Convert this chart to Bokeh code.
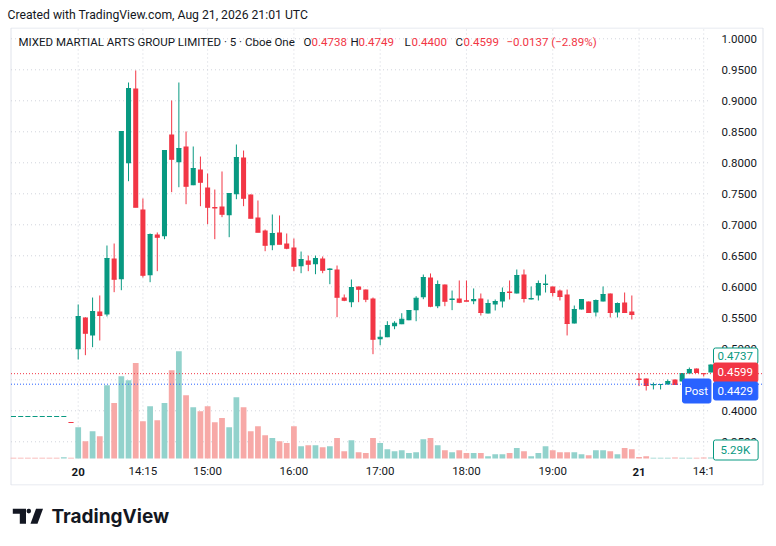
from bokeh.plotting import figure
from bokeh.models import (Range1d, FixedTicker, NumeralTickFormatter, Label,
                          ColumnDataSource)
from bokeh.layouts import column
from bokeh.core.properties import value
from bokeh.embed import file_html
from bokeh.resources import INLINE

# ---------------- data ----------------
bar_index = list(range(-9, 89))   # 5-minute bars; 0 = Aug 20 13:30 UTC

opens = [0.3908]*8 + [0.3815] + [
    0.4994, 0.5505, 0.5215, 0.5602, 0.5553, 0.6456, 0.6123, 0.7994, 0.9198, 0.7247,
    0.6187, 0.6844, 0.6816, 0.8456, 0.8010, 0.8263, 0.7639, 0.7892, 0.7602, 0.7287,
    0.7295, 0.7155, 0.7494, 0.8086, 0.7489, 0.7118, 0.6908, 0.6671, 0.6876, 0.6698,
    0.6634, 0.6332, 0.6424, 0.6365, 0.6456, 0.6271, 0.6279, 0.5827, 0.5752, 0.6005,
    0.5956, 0.5811, 0.5155, 0.5187, 0.5365, 0.5397, 0.5461, 0.5623, 0.5832, 0.6150,
    0.5687, 0.6037, 0.5787, 0.5811, 0.5784, 0.5768, 0.5811, 0.5569, 0.5715, 0.5763,
    0.5924, 0.5892, 0.6198, 0.5795, 0.5860, 0.6029, 0.6005, 0.5940, 0.5876, 0.5408,
    0.5634, 0.5763, 0.5586, 0.5763, 0.5892, 0.5586, 0.5747, 0.5602,
    0.4521, 0.4521, 0.4413, 0.4416, 0.4424, 0.4505, 0.4473, 0.4602, 0.4682, 0.4605, 0.4618]
highs = [0.3908]*8 + [0.3815] + [
    0.5715, 0.5510, 0.5827, 0.5860, 0.6666, 0.6698, 0.8505, 0.9295, 0.9489, 0.7424,
    0.6860, 0.6876, 0.8199, 0.9005, 0.9295, 0.8505, 0.8263, 0.8101, 0.7827, 0.7569,
    0.7860, 0.7505, 0.8295, 0.8198, 0.7489, 0.7392, 0.6924, 0.7166, 0.7150, 0.6860,
    0.6779, 0.6569, 0.6504, 0.6504, 0.6489, 0.6300, 0.6343, 0.5876, 0.6118, 0.6005,
    0.5956, 0.5827, 0.5300, 0.5445, 0.5445, 0.5574, 0.5618, 0.5848, 0.6198, 0.6215,
    0.6102, 0.6037, 0.5940, 0.6102, 0.6102, 0.5973, 0.5892, 0.5795, 0.5795, 0.5989,
    0.6102, 0.6279, 0.6279, 0.6005, 0.6102, 0.6198, 0.6005, 0.5956, 0.5956, 0.5698,
    0.5795, 0.5763, 0.5795, 0.6005, 0.5892, 0.5747, 0.5908, 0.5860,
    0.4602, 0.4521, 0.4456, 0.4424, 0.4505, 0.4505, 0.4602, 0.4698, 0.4682, 0.4605, 0.4749]
lows = [0.3908]*8 + [0.3811] + [
    0.4827, 0.4897, 0.5026, 0.5134, 0.5521, 0.5913, 0.5945, 0.7703, 0.7284, 0.6150,
    0.6074, 0.6252, 0.6768, 0.7526, 0.7606, 0.7332, 0.7639, 0.7300, 0.7010, 0.6768,
    0.7123, 0.6800, 0.7413, 0.7300, 0.7106, 0.6881, 0.6574, 0.6590, 0.6687, 0.6606,
    0.6252, 0.6219, 0.6252, 0.6203, 0.6219, 0.6042, 0.5510, 0.5768, 0.5671, 0.5752,
    0.5752, 0.4913, 0.5058, 0.5187, 0.5316, 0.5397, 0.5461, 0.5445, 0.5800, 0.5671,
    0.5655, 0.5687, 0.5623, 0.5736, 0.5768, 0.5719, 0.5537, 0.5569, 0.5618, 0.5666,
    0.5795, 0.5892, 0.5747, 0.5795, 0.5779, 0.5908, 0.5844, 0.5779, 0.5215, 0.5408,
    0.5634, 0.5586, 0.5521, 0.5763, 0.5505, 0.5505, 0.5586, 0.5473,
    0.4400, 0.4327, 0.4344, 0.4344, 0.4424, 0.4424, 0.4473, 0.4602, 0.4618, 0.4553, 0.4618]
closes = [0.3908]*8 + [0.3811] + [
    0.5521, 0.5252, 0.5602, 0.5537, 0.6456, 0.6123, 0.8505, 0.9198, 0.7284, 0.6187,
    0.6844, 0.6800, 0.8199, 0.8058, 0.8231, 0.7623, 0.7908, 0.7687, 0.7284, 0.7271,
    0.7171, 0.7505, 0.8086, 0.7429, 0.7106, 0.6881, 0.6671, 0.6860, 0.6687, 0.6622,
    0.6332, 0.6440, 0.6365, 0.6456, 0.6268, 0.6287, 0.5832, 0.5784, 0.5989, 0.5961,
    0.5800, 0.5155, 0.5187, 0.5376, 0.5413, 0.5477, 0.5618, 0.5816, 0.6150, 0.5687,
    0.6037, 0.5768, 0.5803, 0.5752, 0.5768, 0.5795, 0.5586, 0.5731, 0.5763, 0.5908,
    0.5908, 0.6182, 0.5811, 0.5811, 0.6053, 0.6045, 0.5908, 0.5844, 0.5408, 0.5634,
    0.5795, 0.5586, 0.5779, 0.5876, 0.5586, 0.5731, 0.5586, 0.5553,
    0.4505, 0.4408, 0.4424, 0.4424, 0.4473, 0.4424, 0.4602, 0.4666, 0.4618, 0.4599, 0.4737]
volumes_k = [3.5, 3.5, 3.5, 3.5, 3.5, 3.5, 3.5, 7, 3.5] + [
    163, 90, 142, 116, 381, 288, 428, 407, 496, 194,
    272, 199, 288, 459, 558, 329, 267, 246, 272, 189,
    210, 163, 319, 267, 142, 168, 121, 106, 90, 80,
    168, 64, 69, 69, 59, 64, 106, 38, 95, 33,
    28, 106, 80, 48, 38, 43, 28, 33, 100, 106,
    69, 43, 33, 43, 28, 28, 28, 12, 22, 22,
    28, 54, 38, 12, 28, 64, 43, 33, 33, 33,
    22, 17, 43, 43, 38, 22, 54, 48,
    8, 12, 4, 4, 4, 5, 4, 4, 4, 5, 5.29]
premarket_vol_up = [False]*7 + [True, False]

tick_positions = [0, 9, 18, 30, 42, 54, 66, 78, 87]
tick_labels = ["20", "14:15", "15:00", "16:00", "17:00", "18:00", "19:00", "21", "14:1"]
day_ticks = {0: "20", 78: "21"}
price_ticks = [0.35, 0.40, 0.45, 0.50, 0.55, 0.60, 0.65, 0.70, 0.75, 0.80, 0.85, 0.90, 0.95, 1.00]

created_text = "Created with TradingView.com, Aug 21, 2026 21:01 UTC"
title_text = "MIXED MARTIAL ARTS GROUP LIMITED \u00b7 5 \u00b7 Cboe One"
ohlc_letters = ["O", "H", "L", "C"]
ohlc_values = ["0.4738", "0.4749", "0.4400", "0.4599"]
change_text = "\u22120.0137 (\u22122.89%)"
last_price, prev_price, post_price = 0.4737, 0.4599, 0.4429
last_volume_text = "5.29K"

# ---------------- style ----------------
UP, DOWN = "#089981", "#F23645"
VUP, VDOWN = "#92D2CC", "#F7A9A7"
BLUE = "#2962FF"
TXT = "#131722"
GRID = "#d1d4dc"
BORDER = "#e0e3eb"
FONT = "Roboto"
FS = "11.5px"

n_pre = len(premarket_vol_up)
up = [c >= o for o, c in zip(opens, closes)]
vol_up = premarket_vol_up + up[n_pre:]

src = ColumnDataSource(dict(
    x=bar_index, o=opens, h=highs, l=lows, c=closes,
    top=[max(a, b) for a, b in zip(opens, closes)],
    bot=[min(a, b) for a, b in zip(opens, closes)],
    col=[UP if u else DOWN for u in up],
    vol=[v * 1000 for v in volumes_k],
    vcol=[VUP if u else VDOWN for u in vol_up],
))

NB = dict(min_border=0, min_border_left=0, min_border_right=0,
          min_border_top=0, min_border_bottom=0)

# ---------------- top strip ----------------
top = figure(width=776, height=26, title=None, toolbar_location=None, output_backend="svg",
             x_range=Range1d(0, 776), y_range=Range1d(26, 0), x_axis_location=None,
             y_axis_location=None, background_fill_color="white",
             border_fill_color="white", **NB)
top.outline_line_color = None
top.grid.visible = False
top.text(x=[7], y=[14], text=[created_text], text_font=value(FONT), text_font_size="12.2px",
         text_color=TXT, text_baseline="middle")

# ---------------- main chart ----------------
# horizontal scale: bar i sits at page x = 77.7 + 7.19*i ; frame spans page x 0..776
BAR0_PX, BAR_PX = 77.7, 7.19
def bx(px):            # page x -> bar-index coordinate
    return (px - BAR0_PX) / BAR_PX

X0, X1 = bx(0), bx(776)
P_TOP, P_BOTTOM = 1.01822, 0.27951      # prices at page y 27 and 485
PANE_BOTTOM = 0.32306                   # price at the bottom of the candle/volume pane
PX_PER_PRICE = 620.0
def py(ypx):           # page y -> price coordinate
    return P_TOP - (ypx - 27) / PX_PER_PRICE

p = figure(width=776, height=461, title=None, toolbar_location=None, output_backend="svg",
           x_range=Range1d(X0, X1), y_range=Range1d(P_BOTTOM, P_TOP),
           y_axis_location="right", min_border=0, min_border_left=0, min_border_right=0,
           min_border_top=1, min_border_bottom=2, background_fill_color="white",
           border_fill_color="white")
p.outline_line_color = None
p.extra_y_ranges = {"vol": Range1d(-140400, 2241200)}
p.grid.visible = False

# panel border
L_, R_ = bx(10.5), bx(762.5)
T_, B_ = py(27.5), py(484.5)
p.segment(x0=[L_, L_, L_, R_], y0=[T_, B_, B_, B_], x1=[R_, R_, L_, R_], y1=[T_, B_, T_, T_],
          line_color=BORDER, line_width=1)

# gridlines (drawn only over the price pane)
GRID_X_END = bx(709)
p.segment(x0=[L_]*len(price_ticks), y0=price_ticks, x1=[GRID_X_END]*len(price_ticks),
          y1=price_ticks, line_color=GRID, line_dash="1 3", line_width=1)
p.segment(x0=tick_positions, y0=[PANE_BOTTOM]*len(tick_positions), x1=tick_positions,
          y1=[T_]*len(tick_positions), line_color=GRID, line_dash="1 3", line_width=1)

# axes (labels drawn inside the panel, as in TradingView)
p.xaxis.ticker = FixedTicker(ticks=tick_positions)
p.xaxis.major_label_overrides = {t: ("" if t in day_ticks else s)
                                 for t, s in zip(tick_positions, tick_labels)}
p.yaxis.ticker = FixedTicker(ticks=price_ticks)
p.yaxis.formatter = NumeralTickFormatter(format="0.0000")
for ax in (p.xaxis, p.yaxis):
    ax.axis_line_color = None
    ax.major_tick_line_color = None
    ax.minor_tick_line_color = None
    ax.major_tick_out = 0
    ax.major_tick_in = 0
    ax.minor_tick_out = 0
    ax.major_label_text_font = FONT
    ax.major_label_text_font_size = FS
    ax.major_label_text_color = TXT
p.xaxis.major_label_standoff = -22
p.yaxis.major_label_standoff = -55

# volume
p.vbar(x="x", width=0.8, top="vol", bottom=0, fill_color="vcol", line_color=None,
       y_range_name="vol", source=src)
# candles
p.segment(x0="x", y0="l", x1="x", y1="h", line_color="col", line_width=1, source=src)
p.vbar(x="x", width=0.7, top="top", bottom="bot", fill_color="col", line_color=None, source=src)
p.rect(x="x", y="c", width=0.7, height=1, height_units="screen", fill_color="col",
       line_color=None, source=src)

# price lines (dotted, across the panel)
p.segment(x0=[L_], y0=[prev_price], x1=[R_], y1=[prev_price], line_color=DOWN,
          line_dash="1 2", line_width=1)
p.segment(x0=[L_], y0=[post_price], x1=[R_], y1=[post_price], line_color=BLUE,
          line_dash="1 2", line_width=1)

# annotation helpers (page pixel -> frame screen coords)
def sx(px):
    return px

def sy(ypx):
    return 485 - ypx

def lab(x, y, text, color=TXT, size=FS, **kw):
    l = Label(x=sx(x), y=sy(y), x_units="screen", y_units="screen", text=text,
              text_font=FONT, text_font_size=size, text_color=color,
              text_baseline="middle", **kw)
    p.add_layout(l)
    return l

def box(x, y, text, color, fill, border, pad):
    l = lab(x, y, text, color=color, background_fill_color=fill, border_line_color=border)
    try:
        l.padding = pad
    except Exception:
        l.padding = 4
    try:
        l.border_radius = 2
    except Exception:
        pass
    return l

# bold day labels on the time axis
for t, s in day_ticks.items():
    p.add_layout(Label(x=t, y=sy(471), x_units="data", y_units="screen", text=s,
                       text_font=FONT, text_font_size=FS, text_font_style="bold",
                       text_color=TXT, text_align="center", text_baseline="middle"))

# legend line
lab(18, 41, title_text)
letter_x = [303, 350, 404, 455]
value_x = [311, 358, 411, 463]
for lx, vx, L, V in zip(letter_x, value_x, ohlc_letters, ohlc_values):
    lab(lx, 41, L)
    lab(vx, 41, V, color=DOWN)
lab(506, 41, change_text, color=DOWN)

# price-scale badges (x = left edge of badge)
box(713, 355.5, f"{last_price:.4f}", UP, "white", UP, dict(left=4, right=5, top=4, bottom=4))
box(713, 372.0, f"{prev_price:.4f}", "white", DOWN, DOWN, dict(left=4, right=5, top=5, bottom=6))
box(682, 390.5, "Post", "white", BLUE, BLUE, dict(left=2, right=3, top=5, bottom=5))
box(713, 390.5, f"{post_price:.4f}", "white", BLUE, BLUE, dict(left=4, right=5, top=5, bottom=5))
box(713, 449.5, last_volume_text, UP, "white", UP, dict(left=7, right=8, top=3, bottom=3))

# ---------------- logo strip ----------------
q = figure(width=776, height=52, title=None, toolbar_location=None, output_backend="svg",
           x_range=Range1d(0, 776), y_range=Range1d(52, 0), x_axis_location=None,
           y_axis_location=None, background_fill_color="white",
           border_fill_color="white", **NB)
q.outline_line_color = None
q.grid.visible = False
oy = 487
tx = [12.3, 25.5, 25.5, 19.3, 19.3, 12.3]
ty = [508.3, 508.3, 523.3, 523.3, 513.3, 513.3]
q.patch(tx, [v - oy for v in ty], fill_color=TXT, line_color=None)
q.circle(x=[28.3], y=[510.6 - oy], radius=2.3, fill_color=TXT, line_color=None)
sxp = [35.5, 42.5, 37.0, 30.0]
syp = [508.3, 508.3, 523.3, 523.3]
q.patch(sxp, [v - oy for v in syp], fill_color=TXT, line_color=None)
q.text(x=[51], y=[516 - oy], text=["TradingView"], text_font=value("Inter"),
       text_font_style="bold", text_font_size="19px", text_color=TXT, text_baseline="middle")

layout = column(top, p, q)
open("out.html", "w").write(file_html(layout, INLINE))
